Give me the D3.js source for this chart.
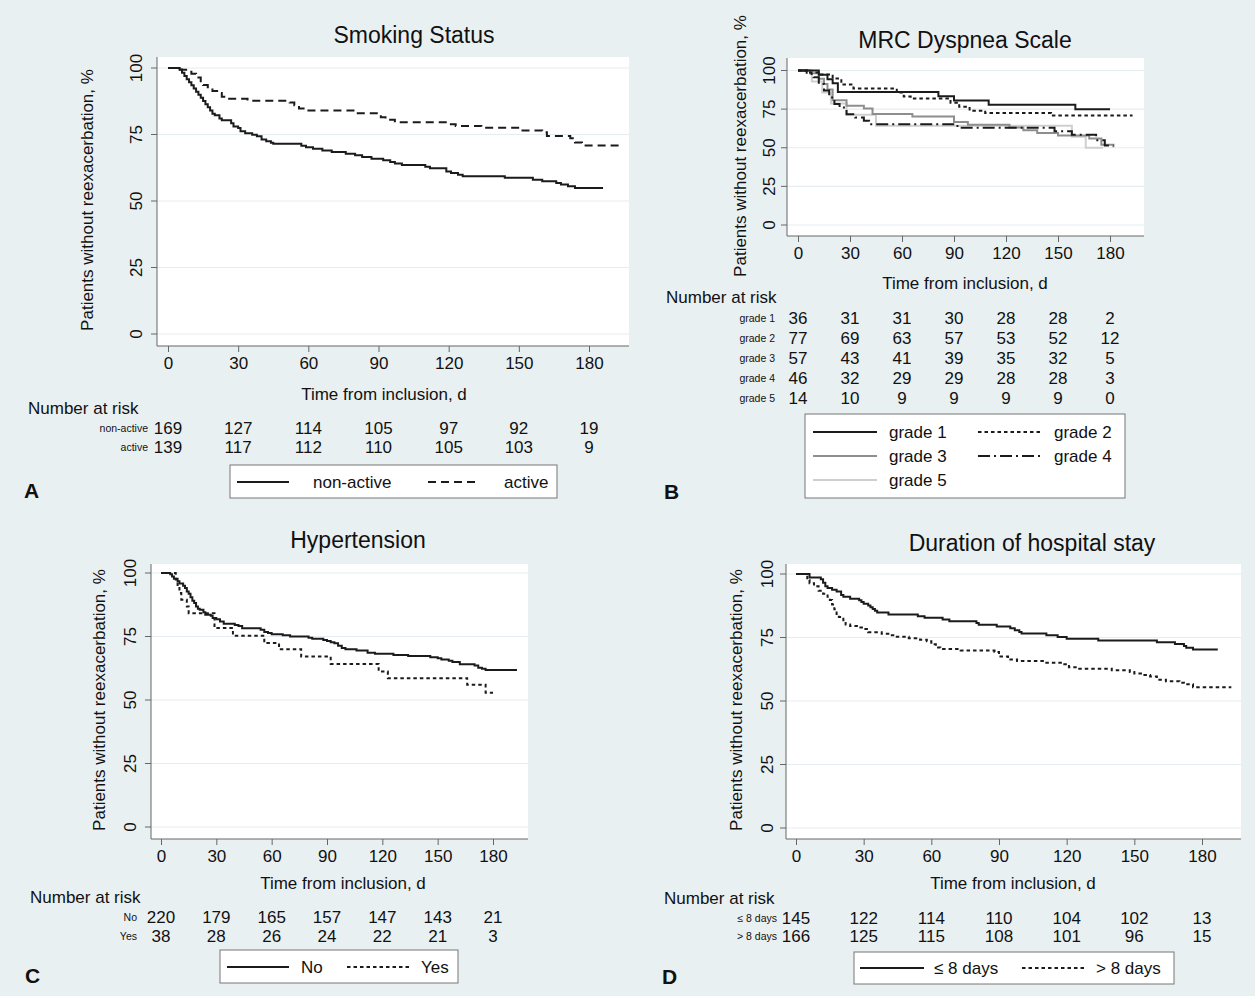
<!DOCTYPE html>
<html>
<head>
<meta charset="utf-8">
<script src="https://cdn.jsdelivr.net/npm/d3@7"></script>
<style>
  body { margin: 0; background: #e9f0f2; }
  text { font-family: "Liberation Sans", Arial, sans-serif; fill: #111; }
</style>
</head>
<body>
<div id="fig"></div>
<script>
// ---- data ----
const xTicks = [0, 30, 60, 90, 120, 150, 180];
const yTicks = [0, 25, 50, 75, 100];
const riskTimes = [0, 30, 60, 90, 120, 150, 180];

// A: smoking status  [day, % without reexacerbation]
const smkNonActive = [[0,100],[5,99.4],[6,98.2],[7,97],[8,95.8],[9,94.6],[10,93.5],[11,92.3],[12,91.1],[13,89.9],[14,88.8],[15,87.6],[16,86.4],[17,85.2],[18,84],[19,82.8],[20,82.2],[22,81],[23,80.4],[27,79.2],[28,78],[30,77.4],[31,76.2],[33,75.5],[36,74.9],[38,74.3],[40,73.1],[42,72.5],[44,71.9],[45,71.5],[57,70.8],[59,70.2],[62,69.6],[66,69],[70,68.4],[76,67.8],[80,67.2],[83,66.5],[87,65.9],[92,65.3],[95,64.7],[97,64.1],[100,63.5],[110,62.9],[112,62.3],[119,61.1],[121,60.5],[124,59.9],[126,59.3],[144,58.7],[156,58],[160,57.4],[166,56.8],[168,56.2],[171,55.5],[174,54.9],[186,54.9]];
const smkActive = [[0,100],[5,99.3],[9,98.6],[10,97.8],[12,96.4],[14,95],[15,93.6],[17,92.8],[19,91.4],[21,90.6],[23,89.2],[25,88.4],[34,87.7],[52,87],[54,86],[56,84.8],[59,84],[80,83],[91,81.5],[93,80.5],[97,79.6],[120,78.9],[123,78.2],[134,77.5],[151,76.5],[160,75.8],[162,74.4],[172,73.6],[174,72],[177,70.9],[194,70.9]];
const smkGroups = ["non-active", "active"];
const smkRisk = [[169,127,114,105,97,92,19],[139,117,112,110,105,103,9]];

// B: MRC dyspnea scale
const mrcGrade1 = [[0,100],[12,97.2],[17,94.4],[20,91.7],[23,86.1],[81,83.3],[90,80.6],[110,77.8],[160,75],[180,75]];
const mrcGrade2 = [[0,100],[6,98.7],[12,97.4],[20,94.8],[25,90.9],[32,88.3],[57,85.7],[61,83.1],[65,81.8],[88,79.2],[93,76.6],[99,74],[108,72.5],[146,70.8],[193,70.8]];
const mrcGrade3 = [[0,100],[7,98.2],[12,94.7],[15,91.2],[17,87.7],[20,80.7],[28,77.2],[38,75.4],[43,71.9],[66,70.2],[90,66.7],[98,64.9],[122,63.1],[130,61.4],[138,59.6],[150,57.9],[168,56],[175,52],[182,50.3]];
const mrcGrade4 = [[0,100],[5,97.8],[9,95.7],[12,91.3],[15,87],[18,82.6],[21,78.3],[24,76],[28,71.7],[33,69.6],[38,67.4],[41,65.2],[92,62.9],[148,60.6],[158,58.4],[172,54.9],[177,51.4],[182,51.4]];
const mrcGrade5 = [[0,100],[8,92.9],[14,85.7],[19,78.6],[28,71.4],[45,64.3],[158,57.1],[166,50],[176,50]];
const mrcGroups = ["grade 1", "grade 2", "grade 3", "grade 4", "grade 5"];
const mrcRisk = [[36,31,31,30,28,28,2],[77,69,63,57,53,52,12],[57,43,41,39,35,32,5],[46,32,29,29,28,28,3],[14,10,9,9,9,9,0]];

// C: hypertension
const htaNo = [[0,100],[5,99.5],[6,98.6],[7,97.7],[9,96.8],[10,95.9],[12,95],[13,94.1],[14,92.7],[15,91.8],[16,90.5],[17,89.1],[18,88.2],[19,86.8],[20,85.9],[21,85.5],[23,84.5],[24,83.6],[27,83.2],[28,82.3],[30,81.8],[32,80.9],[34,80],[40,79.5],[42,79.1],[44,78.2],[54,77.7],[56,76.8],[58,76.4],[60,75.9],[66,75.5],[70,75],[80,74.5],[82,74.1],[88,73.6],[90,73.2],[92,72.7],[94,72.3],[96,71.4],[98,70.5],[100,70],[106,69.5],[112,68.6],[116,68.2],[126,67.7],[134,67.3],[146,66.8],[150,66.4],[152,65.9],[156,65.5],[158,65],[162,64.1],[170,63.6],[172,62.7],[174,62.3],[176,61.8],[193,61.8]];
const htaYes = [[0,100],[8,97.4],[9,94.7],[10,92.1],[11,89.5],[14,86.8],[15,84.2],[29,78.3],[39,75.3],[56,72.4],[64,70],[76,67.1],[92,64.2],[118,61.2],[123,58.6],[166,56],[176,52.9],[180,52.9]];
const htaGroups = ["No", "Yes"];
const htaRisk = [[220,179,165,157,147,143,21],[38,28,26,24,22,21,3]];

// D: duration of hospital stay
const stayShort = [[0,100],[6,98.6],[11,97.9],[12,96.6],[13,95.2],[14,94.5],[16,93.8],[18,93.1],[20,91.7],[21,91],[24,90.3],[28,89.7],[29,89],[30,88.3],[32,87.6],[33,86.9],[34,86.2],[35,85.5],[36,84.8],[41,84.1],[54,83.4],[57,82.8],[65,82.1],[68,81.4],[80,80.7],[81,80],[89,79.3],[95,78.6],[97,77.9],[99,77.2],[100,76.6],[111,75.9],[116,75.2],[120,74.5],[134,73.8],[160,73.1],[168,72.4],[172,71.7],[173,71],[176,70.3],[187,70.3]];
const stayLong = [[0,100],[4,99.4],[5,97.6],[6,96.4],[8,95.2],[10,93.4],[12,92.2],[14,91],[15,89.8],[16,88],[17,86.1],[18,84.3],[19,83.1],[21,81.3],[22,80.1],[24,79.5],[27,78.9],[30,78.3],[32,77.1],[38,76.5],[42,75.9],[44,75.3],[50,74.7],[55,74.1],[58,73.5],[60,72.3],[62,71.1],[64,70.5],[73,69.9],[88,69.3],[90,67.5],[94,66.3],[98,65.7],[110,65.1],[118,64.5],[121,63.3],[124,62.7],[140,62.1],[148,61.4],[150,60.8],[154,60.2],[157,59.6],[160,58.4],[164,57.8],[170,57.2],[172,56.6],[176,55.4],[193,55.4]];
const stayGroups = ["\u2264 8 days", "> 8 days"];
const stayRisk = [[145,122,114,110,104,102,13],[166,125,115,108,101,96,15]];

// ---- drawing ----
const W = 1255, H = 996;
const svg = d3.select("#fig").append("svg")
  .attr("width", W).attr("height", H);
svg.append("rect").attr("width", W).attr("height", H).attr("fill", "#e9f0f2");

const styles = {
  solid:   {stroke: "#1b1b1b", dash: null},
  dashed:  {stroke: "#1b1b1b", dash: "8,5"},
  dotted:  {stroke: "#1b1b1b", dash: "3.5,3"},
  grey:    {stroke: "#8e8e8e", dash: null},
  dashdot: {stroke: "#1b1b1b", dash: "12,4,2,4"},
  light:   {stroke: "#cfcfcf", dash: null}
};

function panel(p) {
  const g = svg.append("g");
  const x = d3.scaleLinear().domain([0, 180]).range(p.xr);
  const y = d3.scaleLinear().domain([0, 100]).range(p.yr);

  // plot region
  g.append("rect")
    .attr("x", p.box[0]).attr("y", p.box[1])
    .attr("width", p.box[2] - p.box[0]).attr("height", p.box[3] - p.box[1])
    .attr("fill", "#fff");

  // grid
  g.selectAll(".grid").data(yTicks).enter().append("line")
    .attr("x1", p.box[0]).attr("x2", p.box[2])
    .attr("y1", d => y(d)).attr("y2", d => y(d))
    .attr("stroke", "#e6edf0").attr("stroke-width", 1.2);

  // axes
  const xAxis = g.append("g").attr("transform", `translate(0,${p.box[3]})`)
    .call(d3.axisBottom(x).tickValues(xTicks).tickSize(6).tickPadding(5));
  const yAxis = g.append("g").attr("transform", `translate(${p.box[0]},0)`)
    .call(d3.axisLeft(y).tickValues(yTicks).tickSize(6).tickPadding(0));
  [xAxis, yAxis].forEach(a => {
    a.select(".domain").remove();
    a.selectAll("line").attr("stroke", "#666");
  });
  g.append("line").attr("x1", p.box[0]).attr("x2", p.box[2])
    .attr("y1", p.box[3]).attr("y2", p.box[3]).attr("stroke", "#666");
  g.append("line").attr("x1", p.box[0]).attr("x2", p.box[0])
    .attr("y1", p.box[1]).attr("y2", p.box[3]).attr("stroke", "#666");
  xAxis.selectAll("text").attr("font-size", 17).attr("fill", "#111")
    .attr("font-family", '"Liberation Sans", Arial, sans-serif');
  yAxis.selectAll("text").attr("font-size", 17).attr("fill", "#111")
    .attr("font-family", '"Liberation Sans", Arial, sans-serif')
    .attr("text-anchor", "middle").attr("dy", "0.35em")
    .attr("transform", function(d) { return `rotate(-90, ${p.yTickX - p.box[0]}, ${y(d)})`; })
    .attr("x", p.yTickX - p.box[0]).attr("y", d => y(d));
  yAxis.selectAll(".tick").attr("transform", null);
  yAxis.selectAll(".tick line").attr("y1", d => y(d)).attr("y2", d => y(d));

  // curves
  const line = d3.line().x(d => x(d[0])).y(d => y(d[1])).curve(d3.curveStepAfter);
  p.series.forEach(s => {
    g.append("path").datum(s.data)
      .attr("d", line).attr("fill", "none")
      .attr("stroke", styles[s.style].stroke)
      .attr("stroke-width", 2)
      .attr("stroke-dasharray", styles[s.style].dash);
  });

  // titles
  g.append("text").attr("x", p.title[0]).attr("y", p.title[1])
    .attr("text-anchor", "middle").attr("dy", "0.35em")
    .attr("font-size", 23).text(p.titleText);
  g.append("text").attr("transform", `translate(${p.yLab[0]},${p.yLab[1]}) rotate(-90)`)
    .attr("text-anchor", "middle").attr("dy", "0.35em")
    .attr("font-size", 17).text("Patients without reexacerbation, %");
  g.append("text").attr("x", p.xLab[0]).attr("y", p.xLab[1])
    .attr("text-anchor", "middle").attr("dy", "0.35em")
    .attr("font-size", 17).text("Time from inclusion, d");

  // number at risk
  g.append("text").attr("x", p.risk.x).attr("y", p.risk.y)
    .attr("dy", "0.35em").attr("font-size", 17).text("Number at risk");
  p.risk.rows.forEach((row, i) => {
    const ry = p.risk.rowY[i];
    g.append("text").attr("x", p.risk.labelX).attr("y", ry)
      .attr("text-anchor", "end").attr("dy", "0.35em")
      .attr("font-size", 10.5).attr("fill", "#222").text(p.risk.groups[i]);
    g.selectAll(null).data(row).enter().append("text")
      .attr("x", (d, j) => x(riskTimes[j])).attr("y", ry)
      .attr("text-anchor", "middle").attr("dy", "0.35em")
      .attr("font-size", 17).text(d => d);
  });

  // legend
  const L = p.legend;
  g.append("rect").attr("x", L.box[0]).attr("y", L.box[1])
    .attr("width", L.box[2] - L.box[0]).attr("height", L.box[3] - L.box[1])
    .attr("fill", "#fff").attr("stroke", "#777");
  L.items.forEach(it => {
    const st = styles[it.style];
    g.append("line").attr("x1", it.x).attr("x2", it.x + L.sample)
      .attr("y1", it.y).attr("y2", it.y)
      .attr("stroke", st.stroke).attr("stroke-width", 2)
      .attr("stroke-dasharray", st.dash);
    g.append("text").attr("x", it.x + L.sample + L.gap).attr("y", it.y)
      .attr("dy", "0.35em").attr("font-size", 17).text(it.label);
  });

  // panel letter
  g.append("text").attr("x", p.letter[0]).attr("y", p.letter[1])
    .attr("dy", "0.35em").attr("font-size", 21).attr("font-weight", "bold")
    .text(p.letterText);
}

panel({
  titleText: "Smoking Status", letterText: "A",
  box: [157, 57, 629, 346], xr: [168, 589], yr: [334, 68],
  title: [414, 35], yTickX: 136, yLab: [87, 200], xLab: [384, 394],
  series: [{data: smkNonActive, style: "solid"}, {data: smkActive, style: "dashed"}],
  risk: {x: 28, y: 408, labelX: 148, rowY: [428, 447], groups: smkGroups, rows: smkRisk},
  legend: {box: [230, 465, 557, 498], sample: 52, gap: 24, items: [
    {x: 237, y: 482, style: "solid", label: smkGroups[0]},
    {x: 428, y: 482, style: "dashed", label: smkGroups[1]}]},
  letter: [24, 491]
});

panel({
  titleText: "MRC Dyspnea Scale", letterText: "B",
  box: [787, 58, 1144, 236], xr: [798, 1110], yr: [225, 70.5],
  title: [965, 40], yTickX: 769, yLab: [740, 146], xLab: [965, 283],
  series: [{data: mrcGrade5, style: "light"}, {data: mrcGrade3, style: "grey"},
           {data: mrcGrade4, style: "dashdot"}, {data: mrcGrade2, style: "dotted"},
           {data: mrcGrade1, style: "solid"}],
  risk: {x: 666, y: 297, labelX: 775, rowY: [318, 338, 358, 378, 398], groups: mrcGroups, rows: mrcRisk},
  legend: {box: [805, 414, 1125, 498], sample: 64, gap: 12, items: [
    {x: 813, y: 432, style: "solid", label: mrcGroups[0]},
    {x: 978, y: 432, style: "dotted", label: mrcGroups[1]},
    {x: 813, y: 456, style: "grey", label: mrcGroups[2]},
    {x: 978, y: 456, style: "dashdot", label: mrcGroups[3]},
    {x: 813, y: 480, style: "light", label: mrcGroups[4]}]},
  letter: [664, 492]
});

panel({
  titleText: "Hypertension", letterText: "C",
  box: [151, 564, 528, 839], xr: [161, 493], yr: [827, 573],
  title: [358, 540], yTickX: 130, yLab: [99, 700], xLab: [343, 883],
  series: [{data: htaNo, style: "solid"}, {data: htaYes, style: "dotted"}],
  risk: {x: 30, y: 897, labelX: 137, rowY: [917, 936], groups: htaGroups, rows: htaRisk},
  legend: {box: [220, 950, 458, 983], sample: 62, gap: 12, items: [
    {x: 227, y: 967, style: "solid", label: htaGroups[0]},
    {x: 347, y: 967, style: "dotted", label: htaGroups[1]}]},
  letter: [25, 976]
});

panel({
  titleText: "Duration of hospital stay", letterText: "D",
  box: [786, 564, 1241, 839], xr: [796, 1202], yr: [828, 574],
  title: [1032, 543], yTickX: 767, yLab: [736, 700], xLab: [1013, 883],
  series: [{data: stayShort, style: "solid"}, {data: stayLong, style: "dotted"}],
  risk: {x: 664, y: 898, labelX: 777, rowY: [918, 936], groups: stayGroups, rows: stayRisk},
  legend: {box: [854, 952, 1174, 984], sample: 64, gap: 10, items: [
    {x: 860, y: 968, style: "solid", label: stayGroups[0]},
    {x: 1022, y: 968, style: "dotted", label: stayGroups[1]}]},
  letter: [662, 977]
});
</script>
</body>
</html>
